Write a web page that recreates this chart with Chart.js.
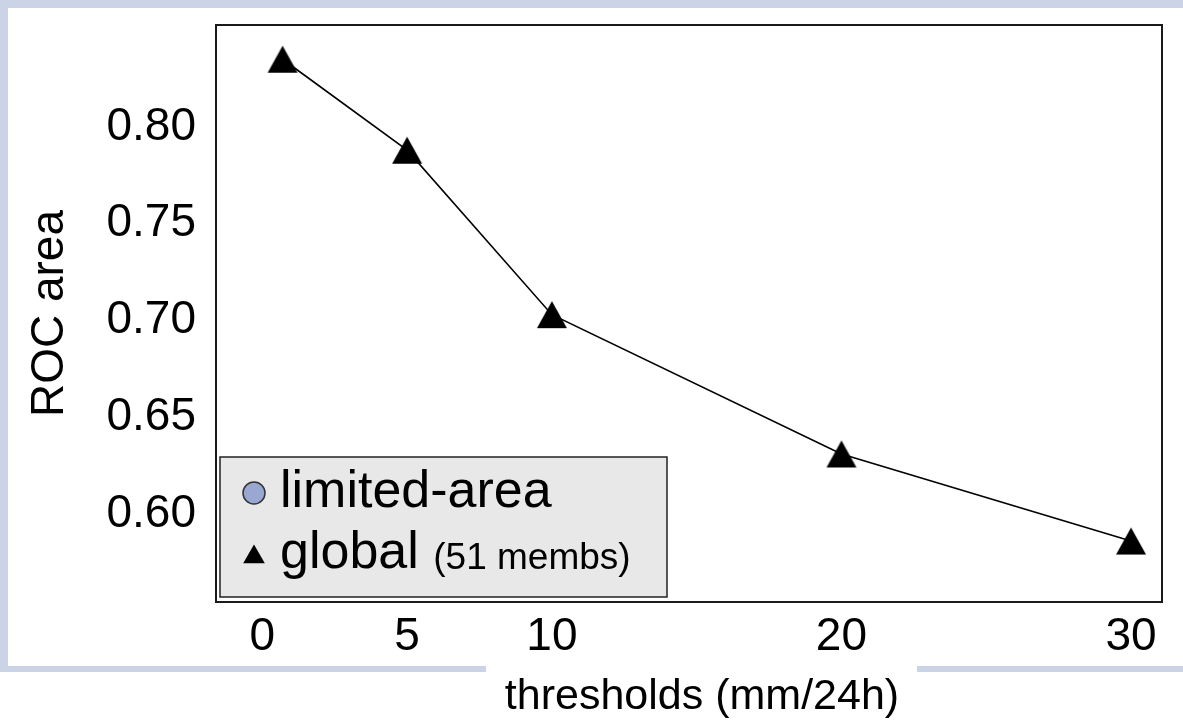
<!DOCTYPE html>
<html>
<head>
<meta charset="utf-8">
<script src="https://cdn.jsdelivr.net/npm/chart.js@4/dist/chart.umd.min.js"></script>
<style>
  html, body { margin: 0; padding: 0; background: #fff; }
</style>
</head>
<body>
<canvas id="myChart" width="1183" height="720"></canvas>
<script>
const thresholds = [0.7, 5, 10, 20, 30];
const globalRoc = [0.835, 0.788, 0.703, 0.631, 0.586];
const limitedRoc = [];
const xTicks = [0, 5, 10, 20, 30];
const yTicks = [0.60, 0.65, 0.70, 0.75, 0.80];
const seriesNames = ["limited-area", "global"];
const seriesNotes = ["", "(51 membs)"];
const xTitle = "thresholds (mm/24h)";
const yTitle = "ROC area";

const FONT = "'Liberation Sans', Arial, sans-serif";

// big triangle marker, centred on its bounding box
const tri = document.createElement("canvas");
tri.width = 32;
tri.height = 29;
const tctx = tri.getContext("2d");
tctx.fillStyle = "#000";
tctx.beginPath();
tctx.moveTo(16, 1);
tctx.lineTo(31, 28);
tctx.lineTo(1, 28);
tctx.closePath();
tctx.fill();

// blue frame behind the chart, plot border, x title in the frame gap
const frame = {
  id: "frame",
  beforeDraw(chart) {
    const ctx = chart.ctx;
    ctx.save();
    ctx.fillStyle = "#fff";
    ctx.fillRect(0, 0, chart.width, chart.height);
    ctx.fillStyle = "#cbd3e6";
    ctx.fillRect(0, 0, chart.width, 8);
    ctx.fillRect(0, 0, 8, 672);
    ctx.fillRect(0, 666, 486, 6);
    ctx.fillRect(917, 666, chart.width - 917, 6);
    ctx.fillStyle = "#000";
    ctx.font = "43px " + FONT;
    ctx.textAlign = "center";
    ctx.textBaseline = "middle";
    ctx.fillText(xTitle, 702, 697);
    ctx.restore();
  },
  beforeDatasetsDraw(chart) {
    const ctx = chart.ctx, a = chart.chartArea;
    ctx.save();
    ctx.strokeStyle = "#1a1a1a";
    ctx.lineWidth = 2;
    ctx.strokeRect(a.left, a.top, a.right - a.left, a.bottom - a.top);
    ctx.restore();
  }
};

// legend box in the lower left corner of the plot
const legendBox = {
  id: "legendBox",
  afterDraw(chart) {
    const ctx = chart.ctx, a = chart.chartArea;
    const x0 = a.left + 4, y0 = 457, w = 447, h = a.bottom - 5 - y0;
    ctx.save();
    ctx.fillStyle = "#e8e8e8";
    ctx.fillRect(x0, y0, w, h);
    ctx.strokeStyle = "#222";
    ctx.lineWidth = 1.5;
    ctx.strokeRect(x0, y0, w, h);
    chart.data.datasets.forEach((ds, i) => {
      const cy = 493 + i * 61;
      const isTri = ds.legendStyle === "triangle";
      ctx.fillStyle = ds.legendFill;
      ctx.strokeStyle = "#333";
      Chart.helpers.drawPoint(ctx, {
        pointStyle: ds.legendStyle,
        radius: isTri ? 12.5 : 11,
        borderWidth: isTri ? 0 : 1.5
      }, 254, isTri ? cy + 3 : cy);
      ctx.fillStyle = "#000";
      ctx.textBaseline = "middle";
      ctx.textAlign = "left";
      ctx.font = "52px " + FONT;
      ctx.fillText(ds.label, 280, cy);
      if (ds.note) {
        const tw = ctx.measureText(ds.label + " ").width;
        ctx.font = "37px " + FONT;
        ctx.fillText(ds.note, 280 + tw, cy + 5);
      }
    });
    ctx.restore();
  }
};

const data = {
  datasets: [
    {
      label: seriesNames[0],
      note: seriesNotes[0],
      data: limitedRoc,
      legendStyle: "circle",
      legendFill: "#98a8d2",
      borderColor: "#333",
      backgroundColor: "#98a8d2",
      pointStyle: "circle"
    },
    {
      label: seriesNames[1],
      note: seriesNotes[1],
      data: thresholds.map((t, i) => ({ x: t, y: globalRoc[i] })),
      legendStyle: "triangle",
      legendFill: "#000",
      borderColor: "#000",
      borderWidth: 1.6,
      backgroundColor: "#000",
      pointStyle: tri,
      pointRadius: 16,
      pointHoverRadius: 16,
      tension: 0,
      clip: false
    }
  ]
};

const config = {
  type: "line",
  data: data,
  plugins: [frame, legendBox],
  options: {
    responsive: false,
    animation: false,
    layout: { padding: { top: 25, right: 21, left: 0, bottom: 0 } },
    plugins: { legend: { display: false }, tooltip: { enabled: false } },
    scales: {
      x: {
        type: "linear",
        min: -1.6,
        max: 31.07,
        grid: { display: false },
        border: { display: false },
        afterBuildTicks: (s) => { s.ticks = xTicks.map(v => ({ value: v })); },
        afterFit: (s) => { s.height = 118; s.paddingLeft = 0; s.paddingRight = 0; },
        ticks: {
          color: "#000",
          padding: 0,
          maxRotation: 0,
          font: { family: FONT, size: 46 }
        }
      },
      y: {
        min: 0.5545,
        max: 0.8527,
        grid: { display: false },
        border: { display: false },
        afterBuildTicks: (s) => { s.ticks = yTicks.map(v => ({ value: v })); },
        afterFit: (s) => { s.width = 216; s.paddingTop = 0; s.paddingBottom = 0; },
        ticks: {
          color: "#000",
          padding: 12,
          callback: (v) => v.toFixed(2),
          font: { family: FONT, size: 46 }
        },
        title: {
          display: true,
          text: yTitle,
          color: "#000",
          padding: { top: 27, bottom: 0 },
          font: { family: FONT, size: 46, lineHeight: 1 }
        }
      }
    }
  }
};

var myChart = new Chart(document.getElementById("myChart"), config);
</script>
</body>
</html>
